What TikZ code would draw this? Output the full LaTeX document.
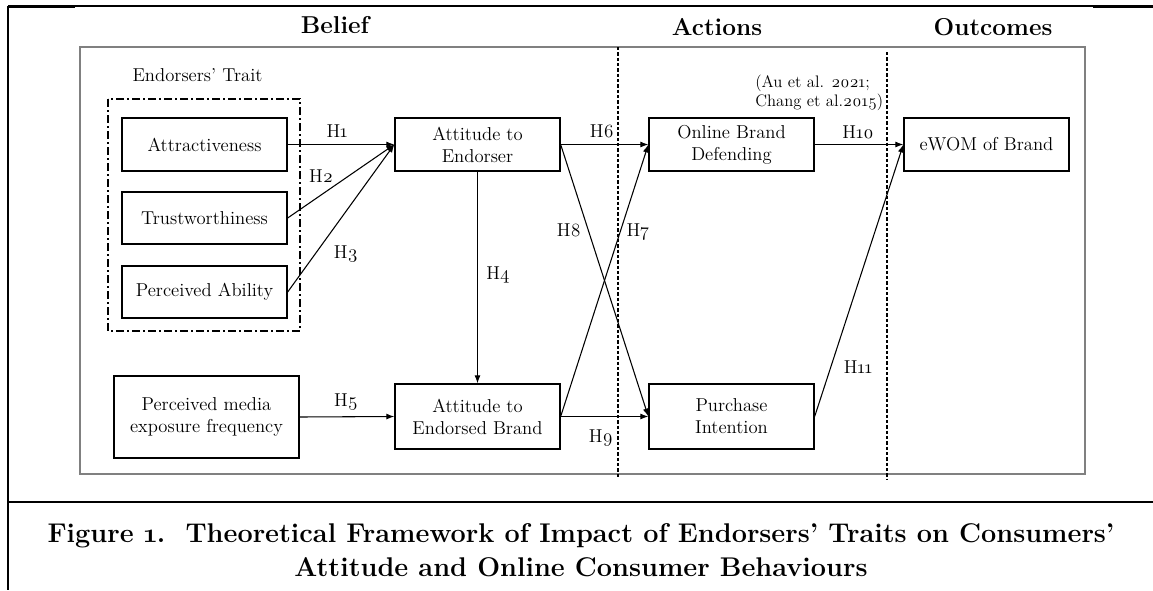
\documentclass[tikz,border=0pt]{standalone}
\usepackage{fontspec}
\setmainfont{Latin Modern Roman}[Numbers=OldStyle]
\usetikzlibrary{arrows.meta}
\begin{document}
\begin{tikzpicture}[x=0.75pt,y=-0.75pt,
  box/.style={draw,line width=1pt,inner sep=0pt,align=center,font=\fontsize{14}{16.5}\selectfont},
  lab/.style={font=\fontsize{14}{16.5}\selectfont,inner sep=0pt,anchor=base},
  hd/.style={font=\bfseries\fontsize{18.3}{22}\selectfont,inner sep=0pt,anchor=base},
  arr/.style={-{Latex[length=6pt,width=4.5pt]},line width=0.8pt},
  vdash/.style={line width=0.9pt,dash pattern=on 2.5pt off 1.5pt},
  dashdot/.style={line width=0.9pt,dash pattern=on 6pt off 2.5pt on 1pt off 2.5pt}]
\useasboundingbox (0,0) rectangle (1153,590);
% page frame
\draw[line width=1.5pt] (8,6) -- (8,590);
\draw[line width=0.8pt] (8,6) -- (1153,6);
\draw[line width=1.6pt] (8,6.5) -- (75,6.5);
\draw[line width=1.6pt] (1093,7) -- (1153,7);
\draw[line width=2pt] (8,502) -- (1153,502);
% inner frame
\draw[gray,line width=0.8pt] (80,47) rectangle (1085,474);
% headers
\node[hd] (hb) at (335,33) {Belief};
\node[hd] (ha) at (717,35) {Actions};
\node[hd] (ho) at (993,35) {Outcomes};
% dashed separators
\coordinate (s1t) at (618,47);
\coordinate (s1b) at (618,478);
\coordinate (s2t) at (887,52);
\coordinate (s2b) at (887,480);
\draw[vdash] (s1t) -- (s1b);
\draw[vdash] (s2t) -- (s2b);
% group
\node[lab] (grp) at (197.5,81) {Endorsers’ Trait};
\draw[dashdot] (108,99) rectangle (300,331);
% boxes
\node[box,minimum width=123.75pt,minimum height=39.75pt] (attr) at (204.5,144.5) {Attractiveness};
\node[box,minimum width=123.75pt,minimum height=39pt] (trust) at (204.5,218) {Trustworthiness};
\node[box,minimum width=123.75pt,minimum height=39pt] (abil) at (204.5,292) {Perceived Ability};
\node[box,minimum width=138.75pt,minimum height=61.5pt] (media) at (206.5,417) {Perceived media\\exposure frequency};
\node[box,minimum width=123.75pt,minimum height=39.75pt] (ate) at (477.5,144.5) {Attitude to\\Endorser};
\node[box,minimum width=123.75pt,minimum height=48.75pt] (atb) at (477.5,416.5) {Attitude to\\Endorsed Brand};
\node[box,minimum width=123.75pt,minimum height=39.75pt] (obd) at (731.5,144.5) {Online Brand\\Defending};
\node[box,minimum width=123.75pt,minimum height=48.75pt] (pi) at (731.5,416.5) {Purchase\\Intention};
\node[box,minimum width=123.75pt,minimum height=39.75pt] (ewom) at (986.5,144.5) {eWOM of Brand};
% citation
\node[font=\fontsize{12.5}{14.5}\selectfont,align=left,inner sep=0pt,anchor=west] (cite) at (755,93) {(Au et al. 2021;\\Chang et al.2015)};
% connectors
\draw[arr] (attr.east) -- (ate.west);
\draw[arr] (trust.east) -- (ate.west);
\draw[arr] (abil.east) -- (ate.west);
\draw[arr] (ate.south) -- (atb.north);
\draw[arr] (media.east) -- (atb.west);
\draw[arr] (ate.east) -- (obd.west);
\draw[arr] (ate.east) -- (pi.west);
\draw[arr] (atb.east) -- (obd.west);
\draw[arr] (atb.east) -- (pi.west);
\draw[arr] (obd.east) -- (ewom.west);
\draw[arr] (pi.east) -- (ewom.west);
% labels
\node[lab] (h1) at (337,137) {H1};
\node[lab] (h2) at (321,182) {H2};
\node[lab] (h3) at (346,258) {H3};
\node[lab] (h4) at (498,279) {H4};
\node[lab] (h5) at (346,406) {H5};
\node[lab] (h6) at (602,137) {H6};
\node[lab] (h7) at (638,236) {H7};
\node[lab] (h8) at (569,236) {H8};
\node[lab] (h9) at (601,442) {H9};
\node[lab] (h10) at (858,138) {H10};
\node[lab] (h11) at (858,373) {H11};
% caption
\node[font=\bfseries\fontsize{20.3}{25.5}\selectfont,align=center,inner sep=0pt,anchor=base] (cap) at (581,576) {Figure 1.\ \ Theoretical Framework of Impact of Endorsers’ Traits on Consumers’\\Attitude and Online Consumer Behaviours};
\end{tikzpicture}
\end{document}
